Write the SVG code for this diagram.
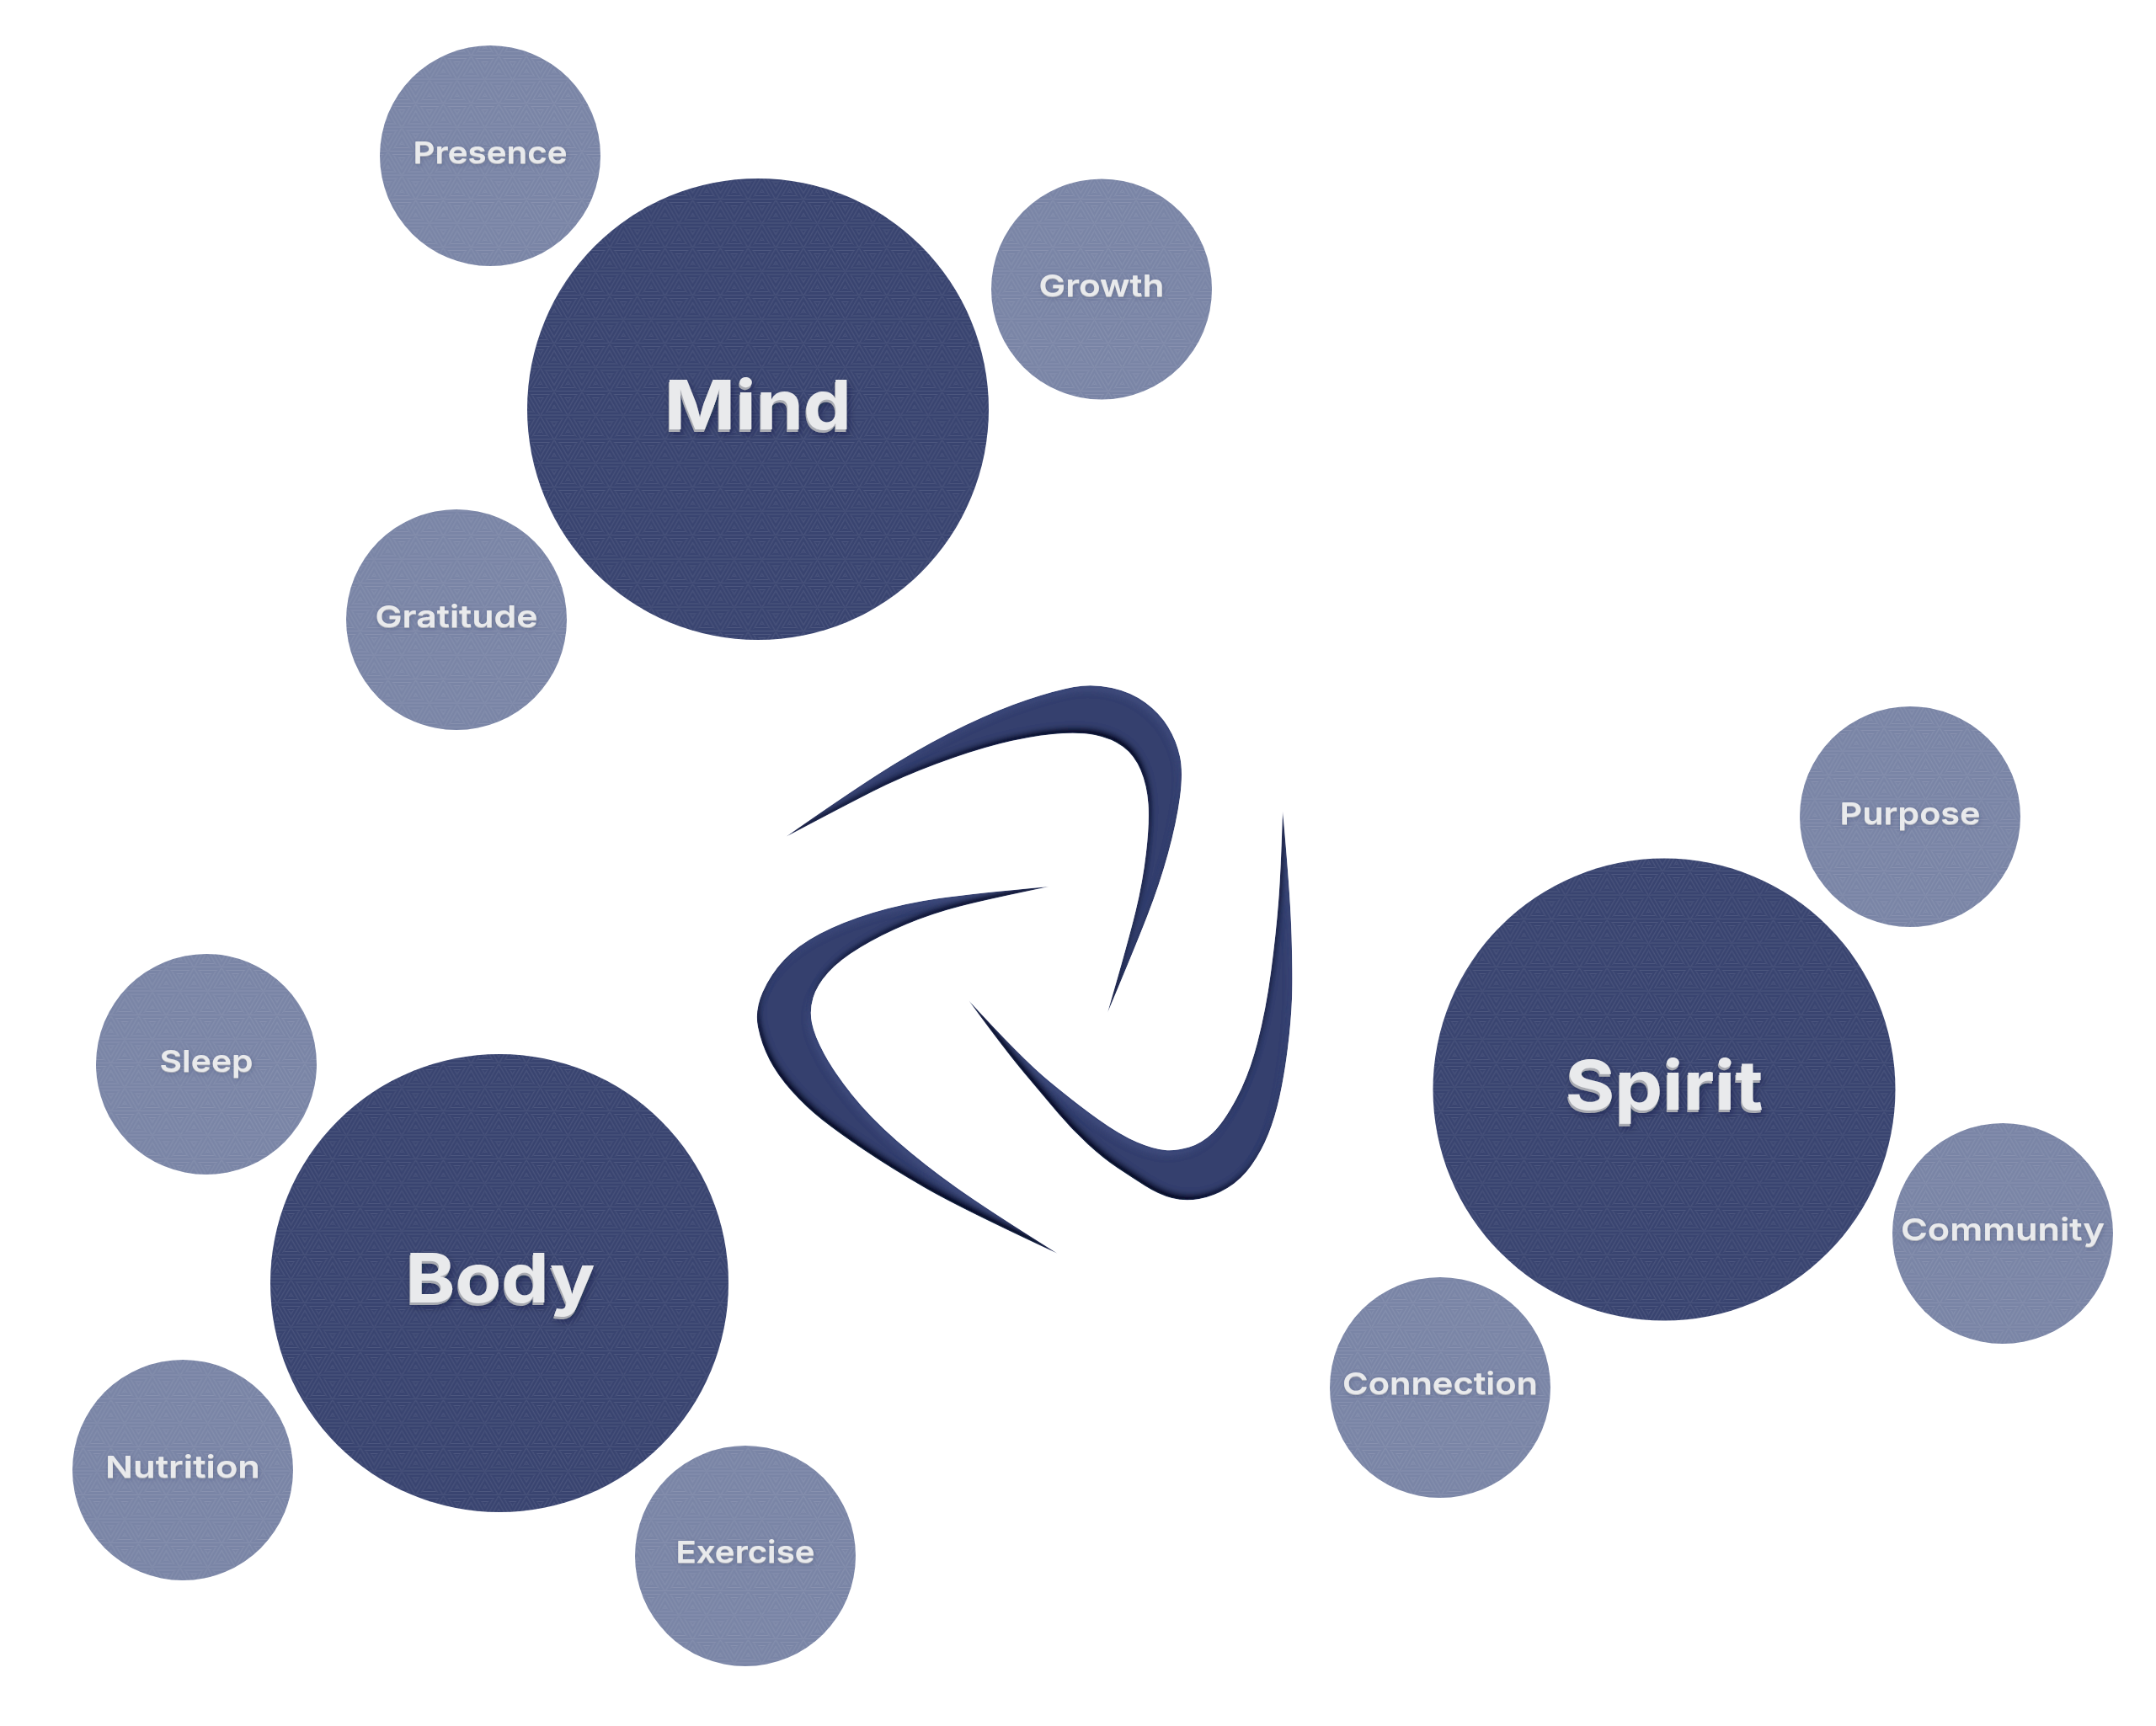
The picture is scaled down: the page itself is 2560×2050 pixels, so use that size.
<svg xmlns="http://www.w3.org/2000/svg" xmlns:xlink="http://www.w3.org/1999/xlink" width="2560" height="2050" viewBox="0 0 2560 2050">
<style>
text{font-family:Inter,"Liberation Sans",sans-serif;text-anchor:middle;fill:#e9eaec}
.big{font-size:81px;font-weight:700;filter:url(#embossBig)}
.small{font-size:36px;font-weight:600;filter:url(#embossSmall)}
.dark{fill:url(#darkTex)}
.light{fill:url(#lightTex)}
.boom{fill:#343f6e;filter:url(#bevel)}
</style>
<defs>
<pattern id="hH" width="4" height="4" patternUnits="userSpaceOnUse"><path d="M0 1.5H4" stroke="#fff" stroke-width="1"/></pattern>
<pattern id="hL" width="4" height="4" patternUnits="userSpaceOnUse" patternTransform="rotate(60)"><path d="M0 1.5H4" stroke="#fff" stroke-width="1"/></pattern>
<pattern id="hR" width="4" height="4" patternUnits="userSpaceOnUse" patternTransform="rotate(-60)"><path d="M0 1.5H4" stroke="#fff" stroke-width="1"/></pattern>
<g id="cube">
<path d="M0 0L-16.45-9.5 0-19 16.45-9.5Z" fill="url(#hH)"/>
<path d="M0 0L-16.45-9.5V9.5L0 19Z" fill="url(#hL)"/>
<path d="M0 0L16.45-9.5V9.5L0 19Z" fill="url(#hR)"/>
</g>
<pattern id="darkTex" width="32.9" height="57" patternUnits="userSpaceOnUse">
<rect width="32.9" height="57" fill="#394470"/>
<g opacity=".1">
<use xlink:href="#cube" x="16.45" y="19"/><use xlink:href="#cube" x="0" y="47.5"/><use xlink:href="#cube" x="32.9" y="47.5"/><use xlink:href="#cube" x="0" y="-9.5"/><use xlink:href="#cube" x="32.9" y="-9.5"/>
</g>
</pattern>
<pattern id="lightTex" width="32.9" height="57" patternUnits="userSpaceOnUse">
<rect width="32.9" height="57" fill="#7a85a6"/>
<g opacity=".1">
<use xlink:href="#cube" x="16.45" y="19"/><use xlink:href="#cube" x="0" y="47.5"/><use xlink:href="#cube" x="32.9" y="47.5"/><use xlink:href="#cube" x="0" y="-9.5"/><use xlink:href="#cube" x="32.9" y="-9.5"/>
</g>
</pattern>
<filter id="embossBig" x="-20%" y="-30%" width="140%" height="170%">
<feFlood flood-color="#a9abb2" result="c"/>
<feOffset in="SourceAlpha" dx="-1" dy="3" result="o"/>
<feComposite in="c" in2="o" operator="in" result="side"/>
<feGaussianBlur in="SourceAlpha" stdDeviation="4" result="b"/>
<feOffset in="b" dx="2" dy="5" result="bo"/>
<feFlood flood-color="#0f1430" flood-opacity=".45"/>
<feComposite in2="bo" operator="in" result="sh"/>
<feMerge><feMergeNode in="sh"/><feMergeNode in="side"/><feMergeNode in="SourceGraphic"/></feMerge>
</filter>
<filter id="embossSmall" x="-20%" y="-30%" width="140%" height="170%">
<feFlood flood-color="#b4b6bd" result="c"/>
<feOffset in="SourceAlpha" dx="0" dy="1" result="o"/>
<feComposite in="c" in2="o" operator="in" result="side"/>
<feGaussianBlur in="SourceAlpha" stdDeviation="2.5" result="b"/>
<feOffset in="b" dx="1" dy="2" result="bo"/>
<feFlood flood-color="#2a3050" flood-opacity=".28"/>
<feComposite in2="bo" operator="in" result="sh"/>
<feMerge><feMergeNode in="sh"/><feMergeNode in="side"/><feMergeNode in="SourceGraphic"/></feMerge>
</filter>
<filter id="bevel" x="-5%" y="-5%" width="110%" height="110%">
<feGaussianBlur in="SourceAlpha" stdDeviation="3" result="b"/>
<feOffset in="b" dx="3" dy="-6" result="o1"/>
<feComposite in="SourceAlpha" in2="o1" operator="out" result="edgeD"/>
<feFlood flood-color="#05071a"/>
<feComposite in2="edgeD" operator="in" result="dark"/>
<feGaussianBlur in="dark" stdDeviation="1" result="darkB"/>
<feOffset in="b" dx="-3" dy="6" result="o2"/>
<feComposite in="SourceAlpha" in2="o2" operator="out" result="edgeL"/>
<feFlood flood-color="#3f4b7c"/>
<feComposite in2="edgeL" operator="in" result="lite"/>
<feGaussianBlur in="lite" stdDeviation="1.5" result="liteB"/>
<feMerge result="m"><feMergeNode in="SourceGraphic"/><feMergeNode in="liteB"/><feMergeNode in="darkB"/></feMerge>
<feComposite in="m" in2="SourceAlpha" operator="in"/>
</filter>
</defs>
<rect width="2560" height="2050" fill="#fff"/>
<g id="connectors"></g>
<g id="center-symbol">
<path class="boom" d="M933 994Q1020 933 1063.5 906.5Q1107 880 1147 861Q1187 842 1220 831Q1253 820 1275 816Q1297 812 1320 817Q1343 822 1360 834.5Q1377 847 1387 863.5Q1397 880 1401 898.5Q1405 917 1401 947Q1397 977 1387 1013.5Q1377 1050 1362 1088.5Q1347 1127 1315 1203Q1340 1117 1348.5 1082Q1357 1047 1361 1012Q1365 977 1363.5 955Q1362 933 1354.5 915Q1347 897 1333.5 887Q1320 877 1300 873Q1280 869 1250 872Q1220 875 1186.5 883.5Q1153 892 1111.5 907.5Q1070 923 1036.5 940Q1003 957 933 994Z"/>
<path class="boom" d="M1246 1053Q1157 1061 1115 1067Q1073 1073 1036.5 1084Q1000 1095 973.5 1109Q947 1123 931 1140Q915 1157 905.5 1178.5Q896 1200 900 1220Q904 1240 913.5 1258.5Q923 1277 940 1296Q957 1315 976 1330Q995 1345 1026 1366Q1057 1387 1098.5 1411Q1140 1435 1256 1489Q1173 1437 1135 1410Q1097 1383 1065 1355Q1033 1327 1011.5 1300Q990 1273 978.5 1251.5Q967 1230 964 1215Q961 1200 965.5 1185Q970 1170 983.5 1155Q997 1140 1022 1125Q1047 1110 1077 1097.5Q1107 1085 1140 1076.5Q1173 1068 1246 1053Z"/>
<path class="boom" d="M1523 963Q1532 1060 1533.5 1110Q1535 1160 1534 1186.5Q1533 1213 1529 1245Q1525 1277 1519.5 1302Q1514 1327 1506 1347Q1498 1367 1486 1384Q1474 1401 1457.5 1411Q1441 1421 1424 1424Q1407 1427 1391.5 1423Q1376 1419 1359.5 1408.5Q1343 1398 1326.5 1387Q1310 1376 1291.5 1359Q1273 1342 1256.5 1322.5Q1240 1303 1216.5 1275Q1193 1247 1150 1188Q1213 1257 1245 1283.5Q1277 1310 1303.5 1329Q1330 1348 1350 1356.5Q1370 1365 1383.5 1366Q1397 1367 1412 1362.5Q1427 1358 1440 1345.5Q1453 1333 1468 1305Q1483 1277 1493 1238.5Q1503 1200 1509 1155Q1515 1110 1518 1071.5Q1521 1033 1523 963Z"/>
</g>
<g id="mind"><circle class="dark" cx="900" cy="486" r="274"/><text class="big" x="900" y="510" textLength="222" lengthAdjust="spacingAndGlyphs">Mind</text></g>
<g id="body"><circle class="dark" cx="593" cy="1524" r="272"/><text class="big" x="594" y="1547" textLength="225" lengthAdjust="spacingAndGlyphs">Body</text></g>
<g id="spirit"><circle class="dark" cx="1976" cy="1294" r="274.5"/><text class="big" x="1976" y="1318" textLength="235" lengthAdjust="spacingAndGlyphs">Spirit</text></g>
<g id="presence"><circle class="light" cx="582" cy="185" r="131"/><text class="small" x="582" y="194" textLength="183" lengthAdjust="spacingAndGlyphs">Presence</text></g>
<g id="growth"><circle class="light" cx="1308" cy="343.5" r="131"/><text class="small" x="1308" y="352" textLength="149" lengthAdjust="spacingAndGlyphs">Growth</text></g>
<g id="gratitude"><circle class="light" cx="542" cy="736" r="131"/><text class="small" x="542" y="745" textLength="193" lengthAdjust="spacingAndGlyphs">Gratitude</text></g>
<g id="purpose"><circle class="light" cx="2268" cy="970" r="131"/><text class="small" x="2268" y="979" textLength="167" lengthAdjust="spacingAndGlyphs">Purpose</text></g>
<g id="community"><circle class="light" cx="2378" cy="1465" r="131"/><text class="small" x="2378" y="1473" textLength="242" lengthAdjust="spacingAndGlyphs">Community</text></g>
<g id="connection"><circle class="light" cx="1710" cy="1648" r="131"/><text class="small" x="1710" y="1656" textLength="232" lengthAdjust="spacingAndGlyphs">Connection</text></g>
<g id="sleep"><circle class="light" cx="245" cy="1264" r="131"/><text class="small" x="245" y="1273" textLength="111" lengthAdjust="spacingAndGlyphs">Sleep</text></g>
<g id="nutrition"><circle class="light" cx="217" cy="1746" r="131"/><text class="small" x="217" y="1755" textLength="184" lengthAdjust="spacingAndGlyphs">Nutrition</text></g>
<g id="exercise"><circle class="light" cx="885" cy="1848" r="131"/><text class="small" x="885" y="1856" textLength="165" lengthAdjust="spacingAndGlyphs">Exercise</text></g>
</svg>
